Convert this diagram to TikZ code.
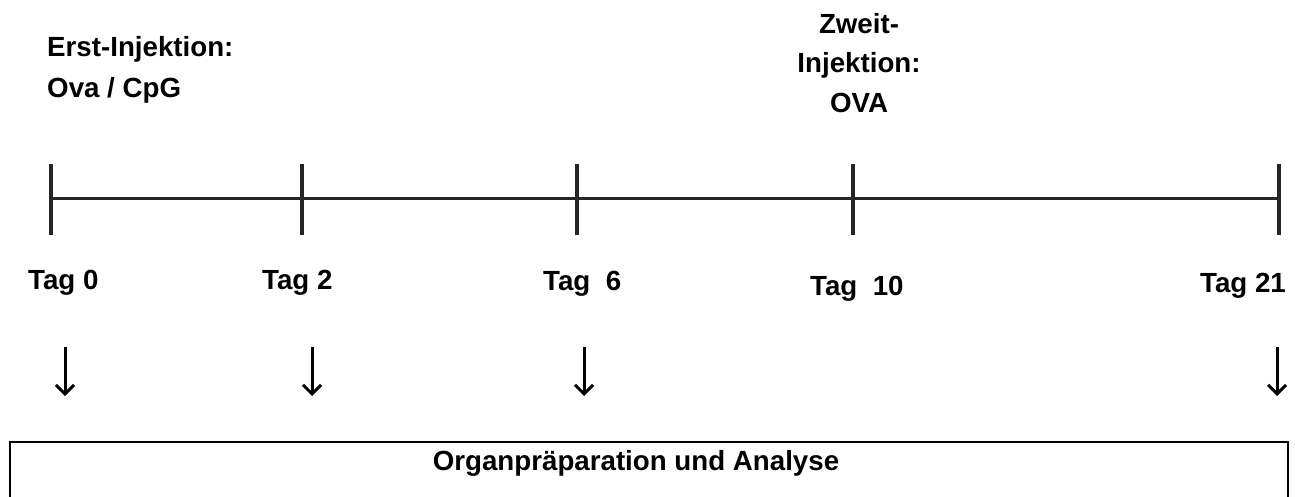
\documentclass[tikz,border=0pt]{standalone}
\usepackage{fontspec}
\setmainfont{Liberation Sans}
\usetikzlibrary{arrows.meta}
\begin{document}
\begin{tikzpicture}[x=1pt,y=-1pt,
  lbl/.style={inner sep=0pt,font=\fontsize{27.7}{33}\selectfont\bfseries},
  axisline/.style={line width=3pt,black!85},
  tick/.style={line width=3.5pt,black!85},
  downarrow/.style={line width=3pt,-{Straight Barb[length=9pt,width=18pt,line width=3pt]}},
  panel/.style={draw,line width=2pt,inner sep=0pt,minimum width=1278pt,minimum height=120pt,anchor=north west}]
\useasboundingbox (0,0) rectangle (1304,497);
\clip (0,0) rectangle (1304,497);

% injection labels
\node[lbl,anchor=base west] (erstA) at (47,57) {Erst-Injektion:};
\node[lbl,anchor=base west] (erstB) at (47,98) {Ova / CpG};
\node[lbl,anchor=base] (zweitA) at (859,34) {Zweit-};
\node[lbl,anchor=base] (zweitB) at (859,73) {Injektion:};
\node[lbl,anchor=base] (zweitC) at (859,113) {OVA};

% time axis with ticks
\coordinate (t0) at (51,199);
\coordinate (t2) at (302,199);
\coordinate (t6) at (577,199);
\coordinate (t10) at (853,199);
\coordinate (t21) at (1279,199);
\draw[axisline] (t0) -- (t21);
\foreach \t in {t0,t2,t6,t10,t21}
  \draw[tick] ([yshift=-36pt]\t) -- ([yshift=35pt]\t);

% day labels
\node[lbl,anchor=base west] (d0) at (28,289) {Tag 0};
\node[lbl,anchor=base west] (d2) at (262,289) {Tag 2};
\node[lbl,anchor=base west] (d6) at (543,290) {Tag\ \ 6};
\node[lbl,anchor=base west] (d10) at (810,295) {Tag\ \ 10};
\node[lbl,anchor=base] (d21) at (1243,292) {Tag 21};

% arrows towards analysis
\foreach \n/\x in {a0/65,a2/312,a6/584,a21/1277}{
  \coordinate (\n s) at (\x,347);
  \coordinate (\n e) at (\x,396);
  \draw[downarrow] (\n s) -- (\n e);
}

% analysis panel (open at the lower edge)
\node[panel] (box) at (9,441) {};
\node[lbl,anchor=base] (boxtext) at (636,470) {Organpräparation und Analyse};
\end{tikzpicture}
\end{document}
